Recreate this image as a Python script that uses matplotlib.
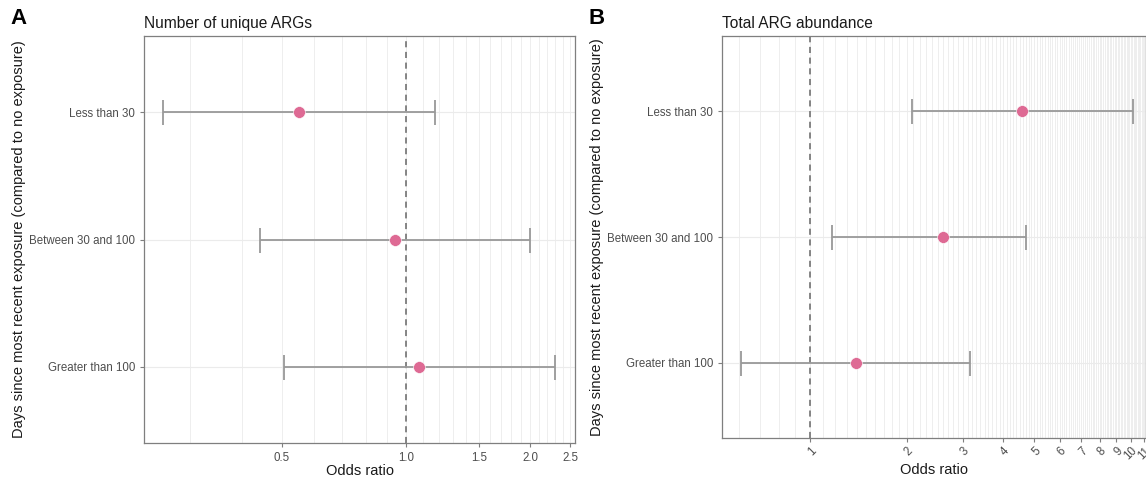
import numpy as np
import matplotlib.pyplot as plt
from matplotlib.ticker import NullFormatter

plt.rcParams["font.family"] = ["Liberation Sans", "DejaVu Sans"]

# categories (top to bottom)
categories = ["Less than 30", "Between 30 and 100", "Greater than 100"]

# Panel A: number of unique ARGs
a_or = [0.55, 0.94, 1.075]
a_lo = [0.258, 0.443, 0.507]
a_hi = [1.176, 2.00, 2.29]
a_ticks = [0.5, 1.0, 1.5, 2.0, 2.5]
a_ticklabels = ["0.5", "1.0", "1.5", "2.0", "2.5"]

# Panel B: total ARG abundance
b_or = [4.58, 2.59, 1.39]
b_lo = [2.08, 1.17, 0.61]
b_hi = [10.13, 4.70, 3.15]
b_ticks = [1, 2, 3, 4, 5, 6, 7, 8, 9, 10, 11]
b_ticklabels = ["1", "2", "3", "4", "5", "6", "7", "8", "9", "10", "11"]

W, H = 1146, 480
fig = plt.figure(figsize=(W / 100, H / 100), dpi=100)

def px_axes(x0, x1, y0, y1):
    return fig.add_axes([x0 / W, 1 - y1 / H, (x1 - x0) / W, (y1 - y0) / H])

ax_a = px_axes(144, 575, 36, 443)
ax_b = px_axes(722, 1146, 36, 438)

point_col = "#DE6A94"
bar_col = "#999999"
grid_col = "#EBEBEB"
text_col = "#4D4D4D"


def draw_panel(ax, ors, los, his, xlim, ticks, ticklabels, grid_from, title, rot, xpad, tpad):
    y = np.arange(len(categories))
    ax.set_xscale("log")
    ax.set_xlim(*xlim)
    ax.set_ylim(2.6, -0.6)
    # light grid at every 0.1
    for g in np.arange(grid_from, xlim[1] + 1e-9, 0.1):
        ax.axvline(g, color=grid_col, lw=0.6, zorder=0)
    for yy in y:
        ax.axhline(yy, color=grid_col, lw=0.8, zorder=0)
    ax.axvline(1, color="#666666", lw=1.1, ls=(0, (4, 3)), zorder=1)
    ors = np.array(ors)
    err = [ors - np.array(los), np.array(his) - ors]
    ax.errorbar(ors, y, xerr=err, fmt="none", ecolor=bar_col, elinewidth=1.3,
                capsize=9, capthick=1.3, zorder=2)
    ax.plot(ors, y, "o", color=point_col, ms=8.5, mec="white", mew=0.4, zorder=3)

    ax.set_xticks(ticks)
    ax.set_xticklabels(ticklabels, rotation=rot,
                       ha="right" if rot else "center",
                       rotation_mode="anchor" if rot else "default")
    ax.xaxis.set_minor_formatter(NullFormatter())
    ax.tick_params(axis="x", which="minor", length=0)
    ax.set_yticks(y)
    ax.set_yticklabels(categories)
    ax.tick_params(axis="both", which="major", colors="#7F7F7F", labelcolor=text_col,
                   labelsize=8.3, length=3, width=0.8)
    ax.tick_params(axis="x", which="major", pad=tpad)
    for s in ax.spines.values():
        s.set_color("#7F7F7F")
        s.set_linewidth(0.9)
    ax.set_xlabel("Odds ratio", fontsize=10.5, color="#1A1A1A", labelpad=xpad)
    ax.set_ylabel("Days since most recent exposure (compared to no exposure)",
                  fontsize=10.5, color="#1A1A1A")
    ax.set_title(title, loc="left", fontsize=11.2, color="#1A1A1A", pad=6)


draw_panel(ax_a, a_or, a_lo, a_hi, (0.232, 2.565), a_ticks, a_ticklabels, 0.3,
           "Number of unique ARGs", 0, 0, 3.5)
draw_panel(ax_b, b_or, b_lo, b_hi, (0.532, 11.15), b_ticks, b_ticklabels, 0.6,
           "Total ARG abundance", 45, 0, 2)

ax_a.yaxis.set_label_coords(-(144 - 26) / (575 - 144), 0.5)
ax_b.yaxis.set_label_coords(-(722 - 604) / (1146 - 722), 0.5)

fig.text(10 / W, 1 - 18 / H, "A", fontsize=16, fontweight="bold", va="center")
fig.text(589 / W, 1 - 18 / H, "B", fontsize=16, fontweight="bold", va="center")

fig.savefig("out.png", dpi=100)
